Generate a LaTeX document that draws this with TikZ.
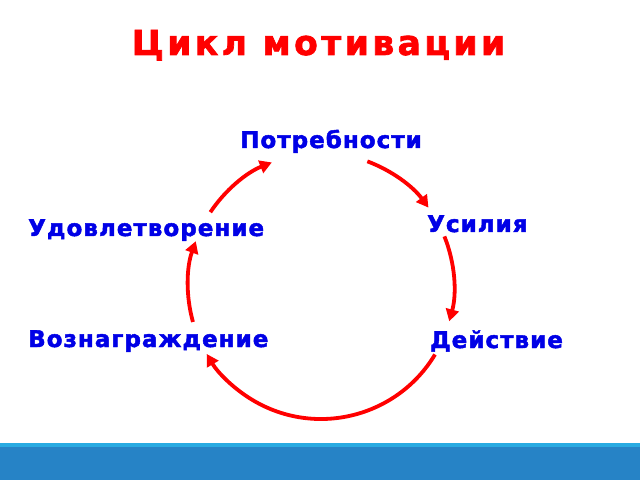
\documentclass[tikz,border=0pt]{standalone}
\usepackage{fontspec}
\setmainfont{DejaVu Sans}
\usetikzlibrary{arrows.meta}
\definecolor{titlered}{RGB}{255,0,0}
\definecolor{lblblue}{RGB}{0,0,230}
\definecolor{barlight}{RGB}{41,171,226}
\definecolor{bardark}{RGB}{38,131,198}
\newfontfamily\lblfont[LetterSpace=4.5,FakeBold=2]{DejaVu Sans Bold}
\newfontfamily\ttlfont[LetterSpace=10,FakeBold=2]{DejaVu Sans Bold}
\tikzset{
  lbl/.style={inner sep=0pt, anchor=base west, text=lblblue, font=\lblfont\fontsize{23}{27}\selectfont},
  cyc/.style={draw=titlered, line width=3.8pt, -{Triangle[length=12pt,width=13pt]}},
}
\begin{document}
\begin{tikzpicture}[x=1pt,y=1pt]
\useasboundingbox (0,0) rectangle (640,480);
\fill[white] (0,0) rectangle (640,480);
\fill[bardark] (0,0) rectangle (640,33);
\fill[barlight] (0,33) rectangle (640,37);
\node[inner sep=0pt, anchor=base, text=titlered, font=\ttlfont\fontsize{34.5}{40}\selectfont] (title) at (318.5,425) {Цикл мотивации};
\node[lbl] (need) at (240,332) {Потребности};
\node[lbl] (eff) at (427,248) {Усилия};
\node[lbl] (sat) at (28,244) {Удовлетворение};
\node[lbl] (rew) at (28,133) {Вознаграждение};
\node[lbl] (act) at (430,132) {Действие};
\coordinate (C) at (321,194);
\draw[cyc] (C) ++(146.3:133) arc[start angle=146.3, end angle=111.7, radius=133];
\draw[cyc] (C) ++(69.6:133) arc[start angle=69.6, end angle=36.1, radius=133];
\draw[cyc] (C) ++(21.9:133) arc[start angle=21.9, end angle=-15.4, radius=133];
\draw[cyc] (C) ++(-31:133) arc[start angle=-31, end angle=-149.3, radius=133];
\draw[cyc] (C) ++(195.7:133) arc[start angle=195.7, end angle=160.3, radius=133];
\end{tikzpicture}
\end{document}
